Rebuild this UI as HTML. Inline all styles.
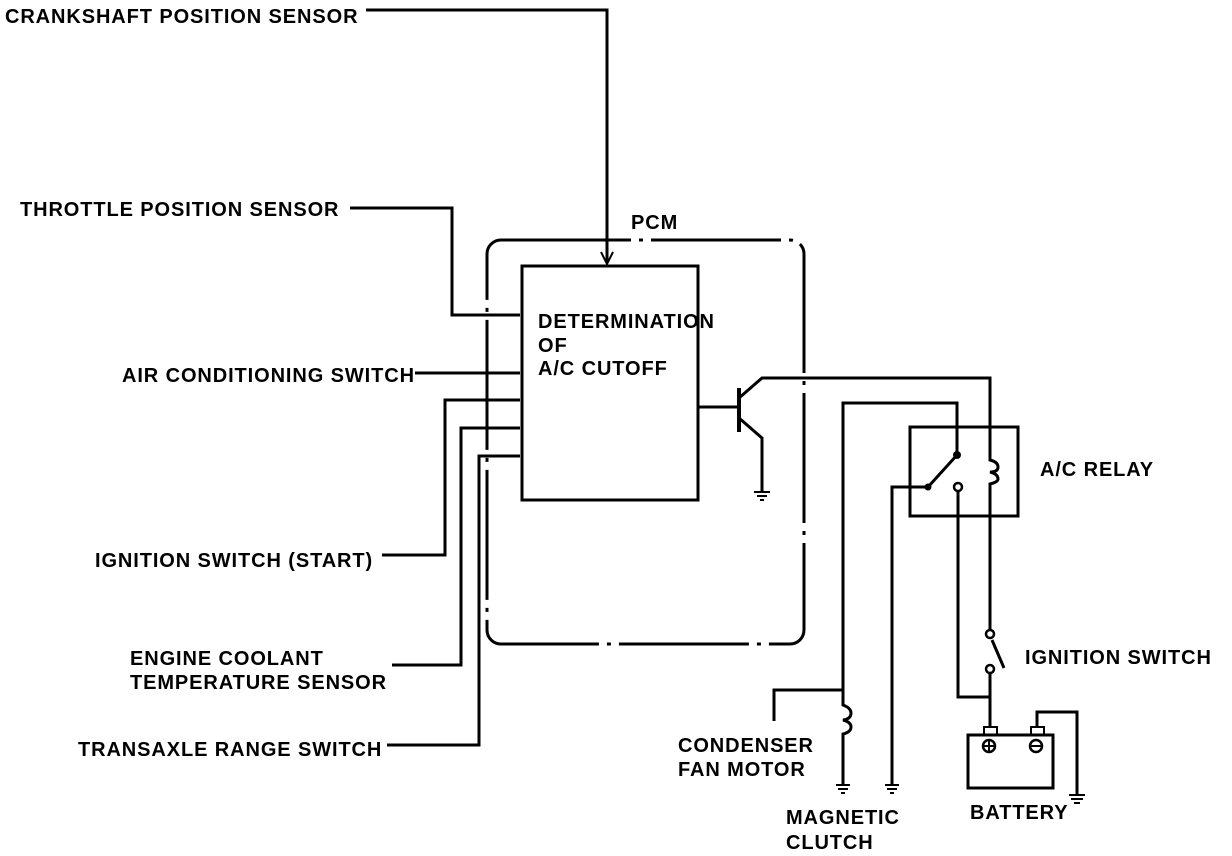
<!DOCTYPE html>
<html><head><style>
html,body{margin:0;padding:0;background:#fff;}
svg{display:block;}
text{font-family:"Liberation Sans",Arial,sans-serif;font-size:20px;font-weight:bold;letter-spacing:0.9px;fill:#000;}
</style></head><body>
<svg width="1232" height="856" viewBox="0 0 1232 856" xmlns="http://www.w3.org/2000/svg">
<g fill="none" stroke="#000" stroke-width="3">
<path d="M366 10 H607 V262"/>
<path d="M601 252 L607 264 L613 252" stroke-width="2"/>
<path d="M350 208 H452 V315 H520"/>
<path d="M415 373 H520"/>
<path d="M382 555 H445 V400 H520"/>
<path d="M392 665 H461 V428 H520"/>
<path d="M387 745 H479 V456 H520"/>
<rect x="487" y="240" width="317" height="404" rx="14" stroke-dasharray="130 8 4 8"/>
<rect x="522" y="266" width="176" height="234"/>
<path d="M698 407 H738"/>
<path d="M739 388 V432" stroke-width="4"/>
<path d="M739 398 L762 378 H990 V455"/>
<path d="M739 418 L762 438 V492"/>
<path d="M754 492 H770 M757 496 H767 M760 500 H764" stroke-width="2"/>
<rect x="910" y="427" width="108" height="89"/>
<path d="M957 455 V403 H843 V690"/>
<path d="M957 455 L928 487 H892 V785"/>
<path d="M990 455 V460 Q998 462 998 467 Q998 472 990 472 Q998 474 998 479 Q998 482 990 484 V630"/>
<path d="M958 492 V697 H990"/>
<path d="M992 640 L1004 668"/>
<path d="M990 673 V726"/>
<path d="M843 690 H774 V721"/>
<path d="M843 690 V705 Q851 708 851 713 Q851 719 843 720 Q851 722 851 727 Q851 732 843 734 V785"/>
<path d="M836 785 H850 M838 789 H848 M841 793 H845" stroke-width="2"/>
<path d="M885 785 H899 M887 789 H897 M890 793 H894" stroke-width="2"/>
<rect x="968" y="735" width="85" height="53"/>
<rect x="984" y="727" width="13" height="8" stroke-width="2"/>
<rect x="1031" y="727" width="13" height="8" stroke-width="2"/>
<path d="M1037 727 V712 H1077 V795"/>
<path d="M1069 795 H1085 M1071 799 H1083 M1074 803 H1080" stroke-width="2"/>
<circle cx="989" cy="746" r="6" stroke-width="2.5"/>
<path d="M984 746 H994 M989 741 V751" stroke-width="2"/>
<circle cx="1036" cy="746" r="6" stroke-width="2.5"/>
<path d="M1031 746 H1041" stroke-width="2"/>
</g>
<g fill="#000">
<circle cx="957" cy="455" r="4"/>
<circle cx="928" cy="487" r="3.5"/>
</g>
<g fill="#fff" stroke="#000" stroke-width="2.5">
<circle cx="958" cy="487" r="4"/>
<circle cx="990" cy="634" r="4"/>
<circle cx="990" cy="669" r="4"/>
</g>
<text x="5" y="23">CRANKSHAFT POSITION SENSOR</text>
<text x="20" y="216">THROTTLE POSITION SENSOR</text>
<text x="122" y="382">AIR CONDITIONING SWITCH</text>
<text x="95" y="567">IGNITION SWITCH (START)</text>
<text x="130" y="665">ENGINE COOLANT</text>
<text x="130" y="689">TEMPERATURE SENSOR</text>
<text x="78" y="756">TRANSAXLE RANGE SWITCH</text>
<text x="631" y="229">PCM</text>
<text x="538" y="328">DETERMINATION</text>
<text x="538" y="352">OF</text>
<text x="538" y="375">A/C CUTOFF</text>
<text x="1040" y="476">A/C RELAY</text>
<text x="1025" y="664">IGNITION SWITCH</text>
<text x="678" y="752">CONDENSER</text>
<text x="678" y="776">FAN MOTOR</text>
<text x="786" y="824">MAGNETIC</text>
<text x="786" y="849">CLUTCH</text>
<text x="970" y="819">BATTERY</text>
</svg>
</body></html>
